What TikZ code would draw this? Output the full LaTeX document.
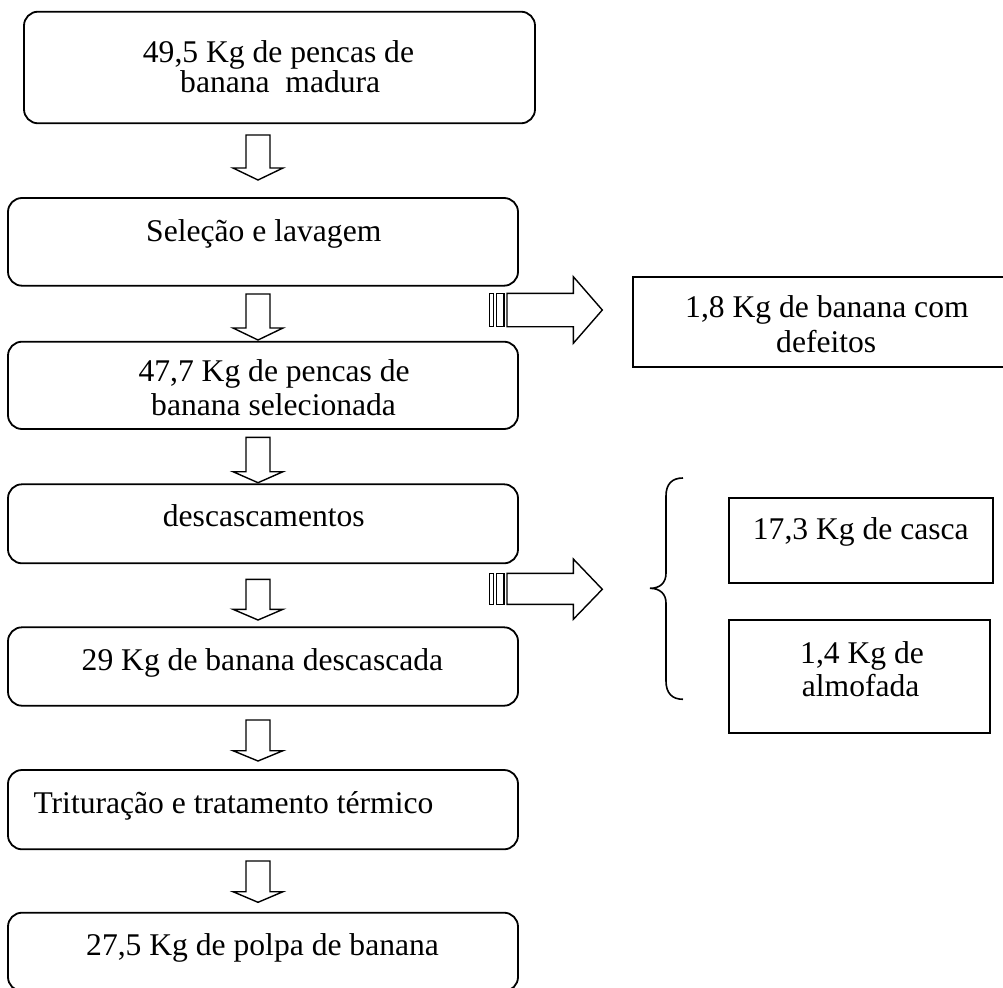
\documentclass[tikz,border=0pt]{standalone}
\usepackage{fontspec}
\setmainfont{Liberation Serif}
\usetikzlibrary{fit}
\tikzset{
  flowbox/.style={draw=black, line width=1.8pt, rounded corners=14pt, inner sep=0pt, fill=none},
  sidebox/.style={draw=black, line width=1.8pt, inner sep=0pt, fill=none},
  txt/.style={inner sep=0pt, anchor=base west, font=\fontsize{31.6}{34}\selectfont, text=black},
  blkarrow/.style={draw=black, line width=1.4pt, fill=white, line join=miter},
  bracestyle/.style={draw=black, line width=1.6pt}
}
\newcommand\BlockDown[3]{%
  \draw[blkarrow] (246,#1) -- (270,#1) -- (270,#2) -- (283,#2) -- (258,#3) -- (233,#2) -- (246,#2) -- cycle;}
\newcommand\StripeArrow[5]{%
  \draw[blkarrow] (489.5,#1) rectangle (493.3,#2);
  \draw[blkarrow] (496.3,#1) rectangle (504,#2);
  \draw[blkarrow] (507,#1) -- (573.3,#1) -- (573.3,#3) -- (602.3,#5) -- (573.3,#4) -- (573.3,#2) -- (507,#2) -- cycle;}
\begin{document}
\begin{tikzpicture}[x=1pt, y=-1pt]
\useasboundingbox (0,0) rectangle (1003,987);
\fill[white] (0,0) rectangle (1003,987);

% main boxes
\node[flowbox, fit={(24,11.7) (535,123.3)}] (b1) {};
\node[flowbox, fit={(8,198) (518,285.7)}] (b2) {};
\node[flowbox, fit={(8,341.7) (518,429)}] (b3) {};
\node[flowbox, fit={(8,484.3) (518,563.3)}] (b4) {};
\node[flowbox, fit={(8,627.3) (518,705.7)}] (b5) {};
\node[flowbox, fit={(8,770) (518,849.3)}] (b6) {};
\node[flowbox, fit={(8,912.7) (518,991)}] (b7) {};

% side boxes
\node[sidebox, fit={(633,277) (1021,367)}] (r1) {};
\node[sidebox, fit={(729.3,498) (992.7,583)}] (r2) {};
\node[sidebox, fit={(729.3,620) (990,733)}] (r3) {};

% texts
\node[txt] (t1a) at (142.7,63) {49,5 Kg de pencas de};
\node[txt] (t1b) at (180,92.7) {banana\ \ madura};
\node[txt] (t2) at (146,241.7) {Seleção e lavagem};
\node[txt] (t3a) at (138.3,381.7) {47,7 Kg de pencas de};
\node[txt] (t3b) at (151,415) {banana selecionada};
\node[txt] (t4) at (162.7,526.7) {descascamentos};
\node[txt] (t5) at (81.5,670) {29 Kg de banana descascada};
\node[txt] (t6) at (33.3,813.3) {Trituração e tratamento térmico};
\node[txt] (t7) at (86,955.7) {27,5 Kg de polpa de banana};
\node[txt] (tr1a) at (685,317) {1,8 Kg de banana com};
\node[txt] (tr1b) at (776,352) {defeitos};
\node[txt] (tr2) at (752.7,539.3) {17,3 Kg de casca};
\node[txt] (tr3a) at (800,663.3) {1,4 Kg de};
\node[txt] (tr3b) at (801.7,696.7) {almofada};

% down block arrows
\BlockDown{135}{168}{180}
\BlockDown{294}{328}{340}
\BlockDown{437.3}{471.7}{482.7}
\BlockDown{579.3}{609.3}{620}
\BlockDown{720}{750.7}{761}
\BlockDown{861}{891.7}{902.3}

% striped side arrows
\StripeArrow{293.3}{326.7}{276.7}{343.3}{310}
\StripeArrow{573.3}{604.3}{559}{619.3}{589.3}

% brace
\draw[bracestyle] (683,478) .. controls (672,478) and (666,484) .. (666,496)
  -- (666,573) .. controls (666,583) and (660,588.3) .. (650,588.3)
  .. controls (660,588.3) and (666,594) .. (666,603)
  -- (666,681) .. controls (666,693) and (672,699.3) .. (683,699.3);
\end{tikzpicture}
\end{document}
